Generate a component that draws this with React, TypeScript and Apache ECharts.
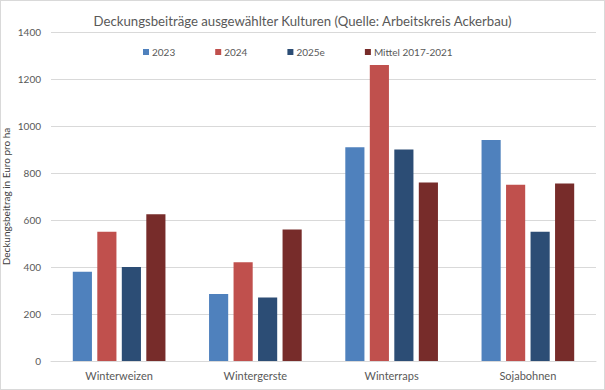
import React, { useEffect, useRef } from "react";
import * as echarts from "echarts";

const categories = ["Winterweizen", "Wintergerste", "Winterraps", "Sojabohnen"];
const seriesNames = ["2023", "2024", "2025e", "Mittel 2017-2021"];
const values2023 = [380, 285, 910, 940];
const values2024 = [550, 420, 1260, 750];
const values2025e = [400, 270, 900, 550];
const valuesMittel = [625, 560, 760, 755];
const colors = ["#4F81BD", "#C0504D", "#2C4D75", "#772C2A"];

const FONT = "Lato, 'Open Sans', sans-serif";

export default function App() {
  const ref = useRef<HTMLDivElement>(null);
  useEffect(() => {
    if (!ref.current) return;
    const chart = echarts.init(ref.current, null, { renderer: "svg" });
    const data = [values2023, values2024, values2025e, valuesMittel];
    chart.setOption({
      animation: false,
      backgroundColor: "#ffffff",
      textStyle: { fontFamily: FONT },
      title: {
        text: "Deckungsbeiträge ausgewählter Kulturen (Quelle: Arbeitskreis Ackerbau)",
        left: "center",
        top: 8,
        textStyle: { fontFamily: FONT, fontSize: 13.2, fontWeight: "normal", color: "#595959" },
      },
      legend: {
        top: 41,
        left: 137,
        itemWidth: 6,
        itemHeight: 6,
        itemGap: 40,
        icon: "rect",
        textStyle: { fontFamily: FONT, fontSize: 10, color: "#595959", padding: [0, 0, 0, -2] },
        data: seriesNames,
      },
      grid: { left: 50, right: 8, top: 31, bottom: 28, containLabel: false, outerBoundsMode: "none" },
      xAxis: {
        type: "category",
        data: categories,
        axisLine: { lineStyle: { color: "#d9d9d9" } },
        axisTick: { show: false },
        axisLabel: { fontFamily: FONT, fontSize: 11, color: "#595959", margin: 9 },
      },
      yAxis: {
        type: "value",
        min: 0,
        max: 1400,
        interval: 200,
        name: "Deckungsbeitrag in Euro pro ha",
        nameLocation: "middle",
        nameGap: 40,
        nameMoveOverlap: false,
        nameTextStyle: { fontFamily: FONT, fontSize: 10, color: "#404040" },
        axisLine: { show: false },
        axisTick: { show: false },
        splitLine: { lineStyle: { color: "#d9d9d9" } },
        axisLabel: {
          fontFamily: FONT,
          fontSize: 10,
          color: "#595959",
          margin: 10,
          formatter: (v: number) => String(v),
        },
      },
      series: seriesNames.map((name, i) => ({
        name,
        type: "bar",
        data: data[i],
        barGap: "28%",
        barCategoryGap: "32%",
        itemStyle: { color: colors[i] },
      })),
    });
    return () => chart.dispose();
  }, []);
  return (
    <div
      ref={ref}
      style={{
        position: "fixed",
        left: 0,
        top: 0,
        width: 605,
        height: 390,
        boxSizing: "border-box",
        border: "1px solid #d9d9d9",
        background: "#fff",
      }}
    />
  );
}
